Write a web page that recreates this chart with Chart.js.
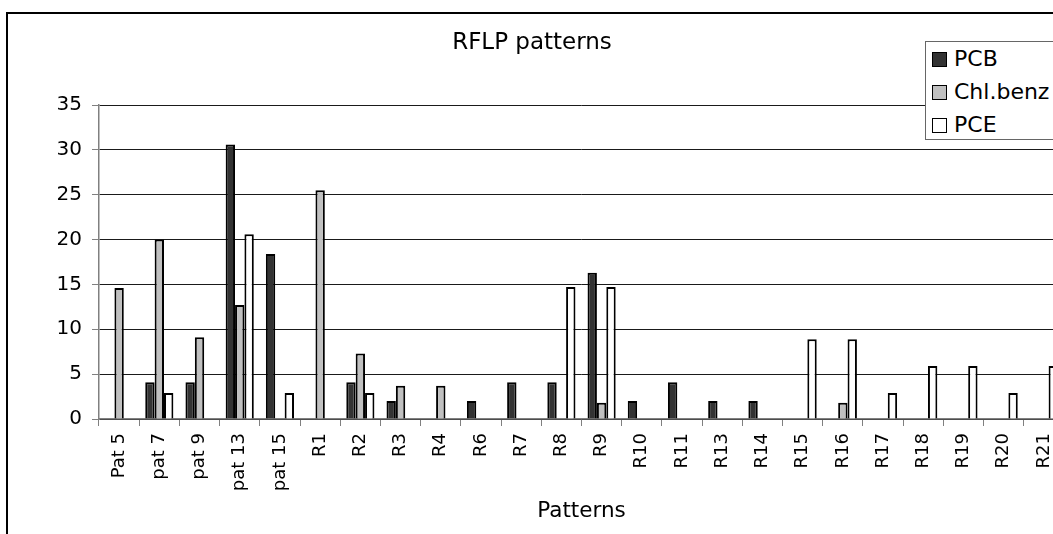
<!DOCTYPE html>
<html>
<head>
<meta charset="utf-8">
<script src="https://cdn.jsdelivr.net/npm/chart.js@4.4.1/dist/chart.umd.min.js"></script>
<style>
  html, body { margin: 0; padding: 0; background: #fff; overflow: hidden; }
  #wrap { position: relative; width: 1053px; height: 534px; overflow: hidden; }
  #frame { position: absolute; left: 6px; top: 12px; width: 2000px; height: 2000px;
           border-left: 2px solid #000; border-top: 2px solid #000; box-sizing: border-box; }
  #c { position: absolute; left: 0; top: 0; }
  #legend { position: absolute; left: 925px; top: 41px; width: 170px; height: 99px;
            border: 1px solid #666; background: #fff; box-sizing: border-box;
            font-family: "DejaVu Sans", Verdana, sans-serif; font-size: 22px; color: #000; }
  .item { position: absolute; left: 6px; height: 26px; line-height: 26px; white-space: nowrap; }
  .sw { position: absolute; left: 0; top: 5px; width: 15px; height: 15px; box-sizing: border-box; border: 1px solid #000; }
  .lbl { position: absolute; left: 22px; top: -1px; }
</style>
</head>
<body>
<div id="wrap">
  <div id="frame"></div>
  <canvas id="c" width="1066" height="534"></canvas>
  <div id="legend"></div>
</div>
<script>
const categories = ['Pat 5','pat 7','pat 9','pat 13','pat 15','R1','R2','R3','R4','R6','R7','R8','R9','R10','R11','R13','R14','R15','R16','R17','R18','R19','R20','R21'];
const pcb      = [0, 4.1, 4.1, 30.6, 18.4, 0, 4.1, 2.0, 0, 2.0, 4.1, 4.1, 16.3, 2.0, 4.1, 2.0, 2.0, 0, 0, 0, 0, 0, 0, 0];
const chlbenz  = [14.6, 20.0, 9.1, 12.7, 0, 25.5, 7.3, 3.7, 3.7, 0, 0, 0, 1.8, 0, 0, 0, 0, 0, 1.8, 0, 0, 0, 0, 0];
const pce      = [0, 2.9, 0, 20.6, 2.9, 0, 2.9, 0, 0, 0, 0, 14.7, 14.7, 0, 0, 0, 0, 8.9, 8.9, 2.9, 5.9, 5.9, 2.9, 5.9];
const seriesNames = ['PCB', 'Chl.benz', 'PCE'];
const yTickMax = 35;
const yTickStep = 5;
const chartTitle = 'RFLP patterns';
const xAxisTitle = 'Patterns';

const FONT = '"DejaVu Sans", Verdana, sans-serif';
const fills = ['#333333', '#c0c0c0', '#ffffff'];

const chart = new Chart(document.getElementById('c'), {
  type: 'bar',
  data: {
    labels: categories,
    datasets: [pcb, chlbenz, pce].map((d, i) => ({
      label: seriesNames[i],
      data: d,
      backgroundColor: fills[i],
      borderColor: '#000',
      borderWidth: 2,
      categoryPercentage: 0.7,
      barPercentage: 1.0
    }))
  },
  options: {
    responsive: false,
    animation: false,
    devicePixelRatio: 1,
    layout: { padding: { left: 0, top: 0, right: 2, bottom: 0 } },
    plugins: {
      legend: { display: false },
      tooltip: { enabled: false },
      title: {
        display: true,
        text: chartTitle,
        color: '#000',
        font: { family: FONT, size: 23, weight: 'normal' },
        padding: { top: 29, bottom: 48.4 }
      }
    },
    scales: {
      x: {
        grid: { drawOnChartArea: false, drawTicks: true, tickLength: 7, color: '#808080', offset: true },
        border: { display: true, color: '#808080', width: 1.5 },
        ticks: { autoSkip: false, maxRotation: 90, minRotation: 90, padding: 7, color: '#000',
                 font: { family: FONT, size: 18 } },
        title: { display: true, text: xAxisTitle, color: '#000',
                 font: { family: FONT, size: 21.5 }, padding: { top: 0, bottom: 10 } },
        afterFit: s => { s.height = 115; s.paddingLeft = 0; s.paddingRight = 0; }
      },
      y: {
        min: 0, max: yTickMax,
        grid: { color: '#1a1a1a', tickColor: '#808080', tickLength: 7, lineWidth: 1 },
        border: { display: true, color: '#808080', width: 1.5 },
        ticks: { stepSize: yTickStep, padding: 10, color: '#000', font: { family: FONT, size: 20 } },
        afterFit: s => { s.width = 99; }
      }
    }
  }
});

const leg = document.getElementById('legend');
const rowTops = [5, 38, 71];
chart.data.datasets.forEach((ds, i) => {
  const it = document.createElement('div');
  it.className = 'item';
  it.style.top = rowTops[i] + 'px';
  const sw = document.createElement('span');
  sw.className = 'sw';
  sw.style.background = ds.backgroundColor;
  const lb = document.createElement('span');
  lb.className = 'lbl';
  lb.textContent = ds.label;
  it.appendChild(sw); it.appendChild(lb);
  leg.appendChild(it);
});
</script>
</body>
</html>
